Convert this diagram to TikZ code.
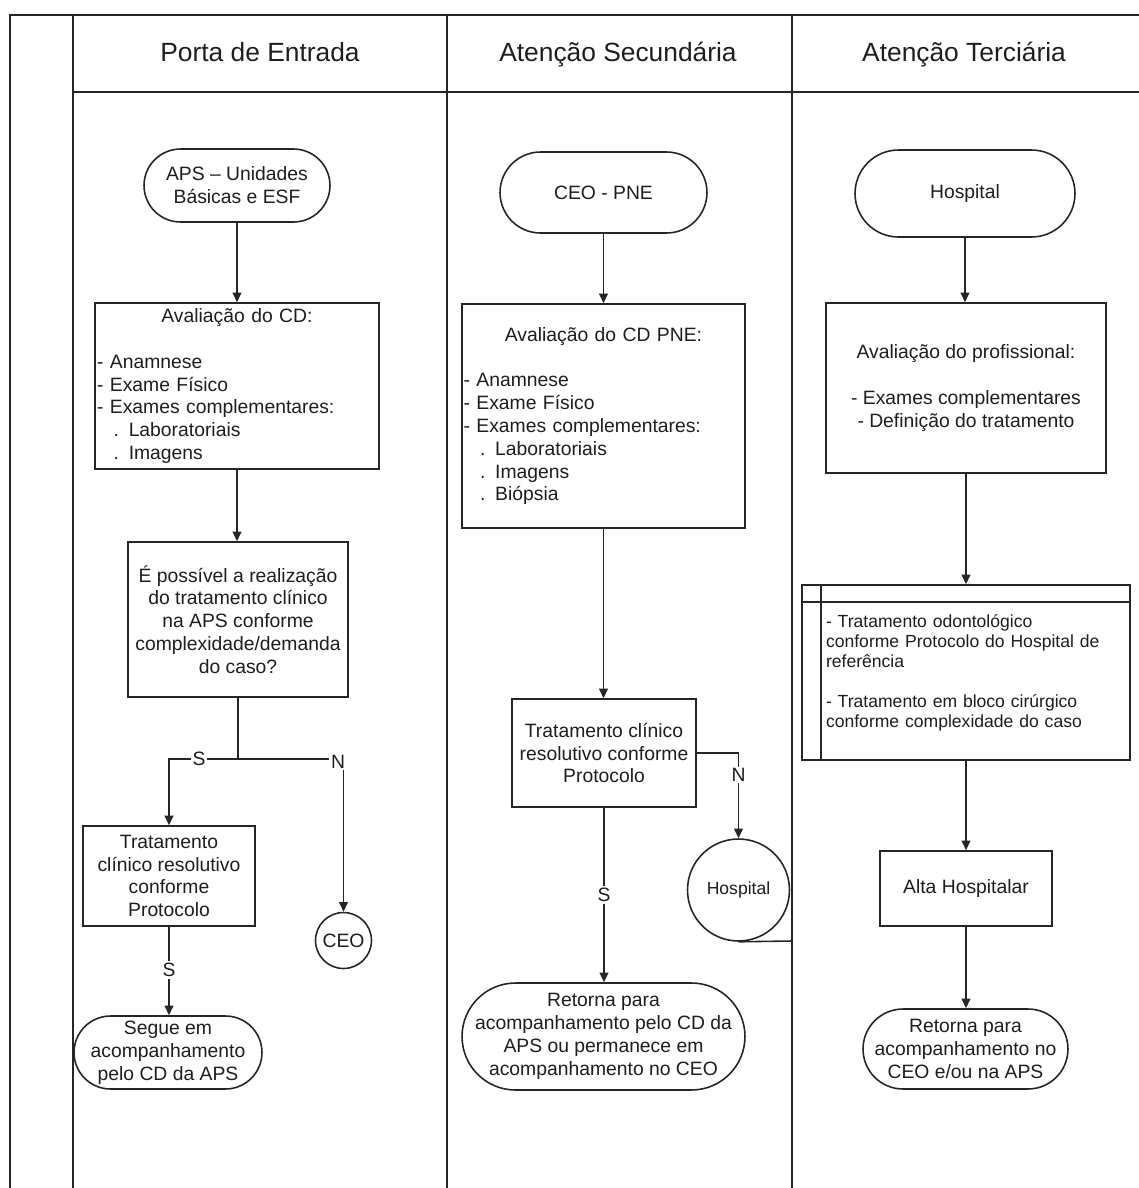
\documentclass[tikz,border=0pt]{standalone}
\usepackage{fontspec}
\setmainfont{Liberation Sans}
\usetikzlibrary{arrows.meta}
\definecolor{linec}{HTML}{262626}
\definecolor{textc}{HTML}{1E1E1E}
\newcommand\fsa{\fontsize{11}{13}\selectfont}
\newcommand\fsb{\fontsize{10}{11.4}\selectfont}
\newcommand\fsh{\fontsize{15}{18}\selectfont}
\tikzset{
  box/.style={draw=linec, line width=0.9pt, text=textc, font=\fsa, inner sep=1pt, align=center, fill=white},
  term/.style={box, rounded corners=#1},
  conn/.style={draw=linec, line width=0.9pt, -{Triangle[length=5.5pt,width=5pt]}},
  plain/.style={draw=linec, line width=0.9pt},
  lbl/.style={fill=white, text=textc, font=\fsa, inner sep=1pt},
  frame/.style={draw=linec, line width=1.2pt},
  hdr/.style={text=textc, font=\fsh, anchor=base},
}
\begin{document}
\begin{tikzpicture}[x=0.02cm,y=-0.02cm]
\useasboundingbox (0,0) rectangle (1139,1188);
% pool frame
\draw[frame, line width=1.6pt] (1139,15) -- (10,15) -- (10,1188);
\draw[frame] (73,15) -- (73,1188);
\draw[frame] (73,92) -- (1139,92);
\draw[frame] (447,15) -- (447,1188);
\draw[frame] (792,15) -- (792,1188);
% headers
\node[hdr] (h1) at (260,61) {Porta de Entrada};
\node[hdr] (h2) at (618,61) {Atenção Secundária};
\node[hdr] (h3) at (964,61) {Atenção Terciária};

% ---------- Lane 1 ----------
\node[term=0.73cm, minimum width=3.72cm, minimum height=1.46cm] (aps) at (237,185.5) {APS – Unidades\\Básicas e ESF};
\node[box, minimum width=5.66cm, minimum height=3.32cm, text width=5.6cm, align=left] (av1) at (237,386)
  {\makebox[\hsize]{Avaliação do CD:}\\[13pt]- Anamnese\\- Exame Físico\\- Exames complementares:\\\hspace*{9.5pt}. Laboratoriais\\\hspace*{9.5pt}. Imagens};
\node[box, minimum width=4.4cm, minimum height=3.1cm] (dec) at (238,619.5)
  {É possível a realização\\do tratamento clínico\\na APS conforme\\complexidade/demanda\\do caso?};
\node[box, minimum width=3.44cm, minimum height=2cm] (tr1) at (169,876)
  {Tratamento\\clínico resolutivo\\conforme\\Protocolo};
\node[term=0.73cm, minimum width=3.76cm, minimum height=1.46cm] (seg) at (168,1052.5)
  {Segue em\\acompanhamento\\pelo CD da APS};
\node[box, circle, minimum size=1.12cm, inner sep=0pt] (ceo) at (343.5,940.5) {CEO};

\coordinate (sp) at (237,759);
\draw[conn] (aps.south) -- (aps.south |- av1.north);
\draw[conn] (av1.south) -- (av1.south |- dec.north);
\draw[plain] (dec.south) -- (dec.south |- sp);
\draw[conn] (dec.south |- sp) -- (tr1.north |- sp) -- (tr1.north);
\draw[conn] (dec.south |- sp) -- (ceo.north |- sp) -- (ceo.north);
\draw[conn] (tr1.south) -- (tr1.south |- seg.north);
\node[lbl] (s1) at (199,759) {S};
\node[lbl] (n1) at (338,762) {N};
\node[lbl] (s2) at (169,970) {S};

% ---------- Lane 2 ----------
\node[term=0.81cm, minimum width=4.14cm, minimum height=1.62cm] (ceopne) at (603.5,192.5) {CEO - PNE};
\node[box, minimum width=5.66cm, minimum height=4.48cm, text width=5.6cm, align=left] (av2) at (603.5,416)
  {\makebox[\hsize]{Avaliação do CD PNE:}\\[13pt]- Anamnese\\- Exame Físico\\- Exames complementares:\\\hspace*{9.5pt}. Laboratoriais\\\hspace*{9.5pt}. Imagens\\\hspace*{9.5pt}. Biópsia};
\node[box, minimum width=3.68cm, minimum height=2.16cm] (tr2) at (604,753)
  {Tratamento clínico\\resolutivo conforme\\Protocolo};
\node[box, circle, minimum size=2.04cm, inner sep=0pt, font=\fsb] (hc) at (738.5,890) {Hospital};
\coordinate (tapeend) at (792,941);
\node[term=1.07cm, minimum width=5.66cm, minimum height=2.14cm] (ret2) at (603.5,1036.5)
  {Retorna para\\acompanhamento pelo CD da\\APS ou permanece em\\acompanhamento no CEO};

\draw[conn] (ceopne.south) -- (ceopne.south |- av2.north);
\draw[conn] (av2.south) -- (av2.south |- tr2.north);
\draw[conn] (tr2.east) -- (tr2.east -| hc.north) -- (hc.north);
\draw[plain] (hc.south) -- (tapeend);
\draw[conn] (tr2.south) -- (tr2.south |- ret2.north);
\node[lbl] (n2) at (738.5,775) {N};
\node[lbl] (s3) at (604,895) {S};

% ---------- Lane 3 ----------
\node[term=0.87cm, minimum width=4.4cm, minimum height=1.74cm] (hosp) at (965,193.5) {Hospital};
\node[box, minimum width=5.6cm, minimum height=3.4cm] (av3) at (966,388)
  {Avaliação do profissional:\\[13pt]- Exames complementares\\- Definição do tratamento};
\node[box, minimum width=6.56cm, minimum height=3.5cm, text width=5.6cm, align=left, font=\fsb] (cont) at (966,672.5)
  {- Tratamento odontológico\\conforme Protocolo do Hospital de\\referência\\[11.4pt]- Tratamento em bloco cirúrgico\\conforme complexidade do caso};
\draw[plain] ([xshift=0.4cm]cont.north west) -- ([xshift=0.4cm]cont.south west);
\draw[plain] ([yshift=-0.36cm]cont.north west) -- ([yshift=-0.36cm]cont.north east);
\node[box, minimum width=3.44cm, minimum height=1.5cm] (alta) at (966,888.5) {Alta Hospitalar};
\node[term=0.8cm, minimum width=4.1cm, minimum height=1.6cm] (ret3) at (965.5,1049)
  {Retorna para\\acompanhamento no\\CEO e/ou na APS};

\draw[conn] (hosp.south) -- (hosp.south |- av3.north);
\draw[conn] (av3.south) -- (av3.south |- cont.north);
\draw[conn] (cont.south) -- (cont.south |- alta.north);
\draw[conn] (alta.south) -- (alta.south |- ret3.north);
\end{tikzpicture}
\end{document}
